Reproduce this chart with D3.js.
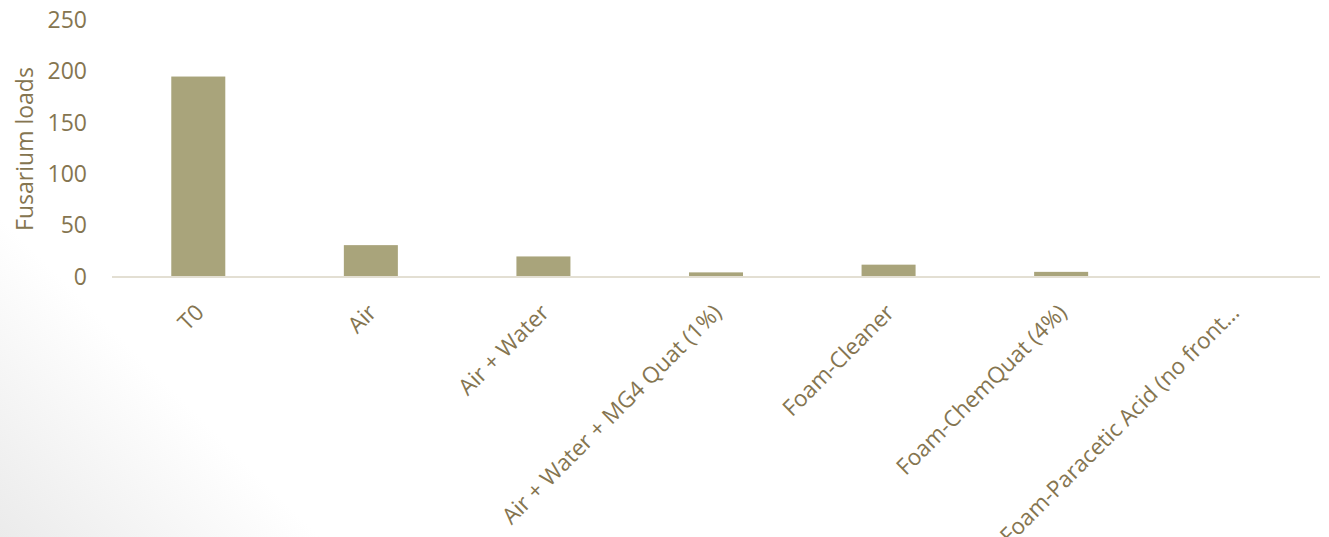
<!DOCTYPE html>
<html>
<head>
<meta charset="utf-8">
<script src="https://cdn.jsdelivr.net/npm/d3@7"></script>
<style>
  body { margin: 0; background: #fff; }
  text { font-family: "Open Sans", "Noto Sans", sans-serif; }
</style>
</head>
<body>
<svg id="chart" width="1329" height="537"></svg>
<script>
const categories = [
  "T0",
  "Air",
  "Air + Water",
  "Air + Water + MG4 Quat (1%)",
  "Foam-Cleaner",
  "Foam-ChemQuat (4%)",
  "Foam-Paracetic Acid (no front…"
];
const loads = [195, 31, 20, 4.5, 12, 5, 0];
const yTicks = [0, 50, 100, 150, 200, 250];

const W = 1329, H = 537;
const margin = { left: 112, right: 9, top: 20, bottom: 260 };
const textColor = "#857550";
const barColor = "#a9a47b";

const svg = d3.select("#chart");

// faint shading in the lower-left corner
const defs = svg.append("defs");
const grad = defs.append("linearGradient")
  .attr("id", "shade")
  .attr("gradientUnits", "userSpaceOnUse")
  .attr("x1", 0).attr("y1", H)
  .attr("x2", 160).attr("y2", H - 160);
grad.append("stop").attr("offset", "0").attr("stop-color", "#ebebeb");
grad.append("stop").attr("offset", "1").attr("stop-color", "#ffffff");
svg.append("rect")
  .attr("width", W).attr("height", H)
  .attr("fill", "url(#shade)");

const x = d3.scaleBand()
  .domain(categories)
  .range([margin.left, W - margin.right])
  .paddingInner(0.687)
  .paddingOuter(0.3435);

const y = d3.scaleLinear()
  .domain([0, 250])
  .range([H - margin.bottom, margin.top]);

// bars
svg.append("g")
  .selectAll("rect")
  .data(categories)
  .join("rect")
  .attr("x", (d) => x(d))
  .attr("width", x.bandwidth())
  .attr("y", (d, i) => y(loads[i]))
  .attr("height", (d, i) => y(0) - y(loads[i]))
  .attr("fill", barColor);

// y axis (labels only)
const yAxis = svg.append("g")
  .attr("transform", `translate(${margin.left - 25},0)`)
  .call(d3.axisLeft(y).tickValues(yTicks).tickSize(0).tickPadding(0));
yAxis.select(".domain").remove();
yAxis.selectAll("text")
  .attr("fill", textColor)
  .style("font-size", "23px");

// baseline
svg.append("line")
  .attr("x1", margin.left).attr("x2", W - margin.right)
  .attr("y1", y(0)).attr("y2", y(0))
  .attr("stroke", "#e3dfd3")
  .attr("stroke-width", 2);

// x axis labels, the last one runs off the bottom as in the original
const xAxis = svg.append("g")
  .attr("transform", `translate(0,${y(0)})`)
  .call(d3.axisBottom(x).tickSize(0).tickPadding(0));
xAxis.select(".domain").remove();
xAxis.selectAll("text")
  .attr("fill", textColor)
  .style("font-size", "22.5px")
  .attr("text-anchor", "end")
  .attr("dy", "0")
  .attr("y", 0)
  .attr("transform", "translate(7,37) rotate(-45)");

// y axis title
svg.append("text")
  .attr("transform", `translate(33,149) rotate(-90)`)
  .attr("text-anchor", "middle")
  .attr("fill", textColor)
  .style("font-size", "23px")
  .text("Fusarium loads");
</script>
</body>
</html>
